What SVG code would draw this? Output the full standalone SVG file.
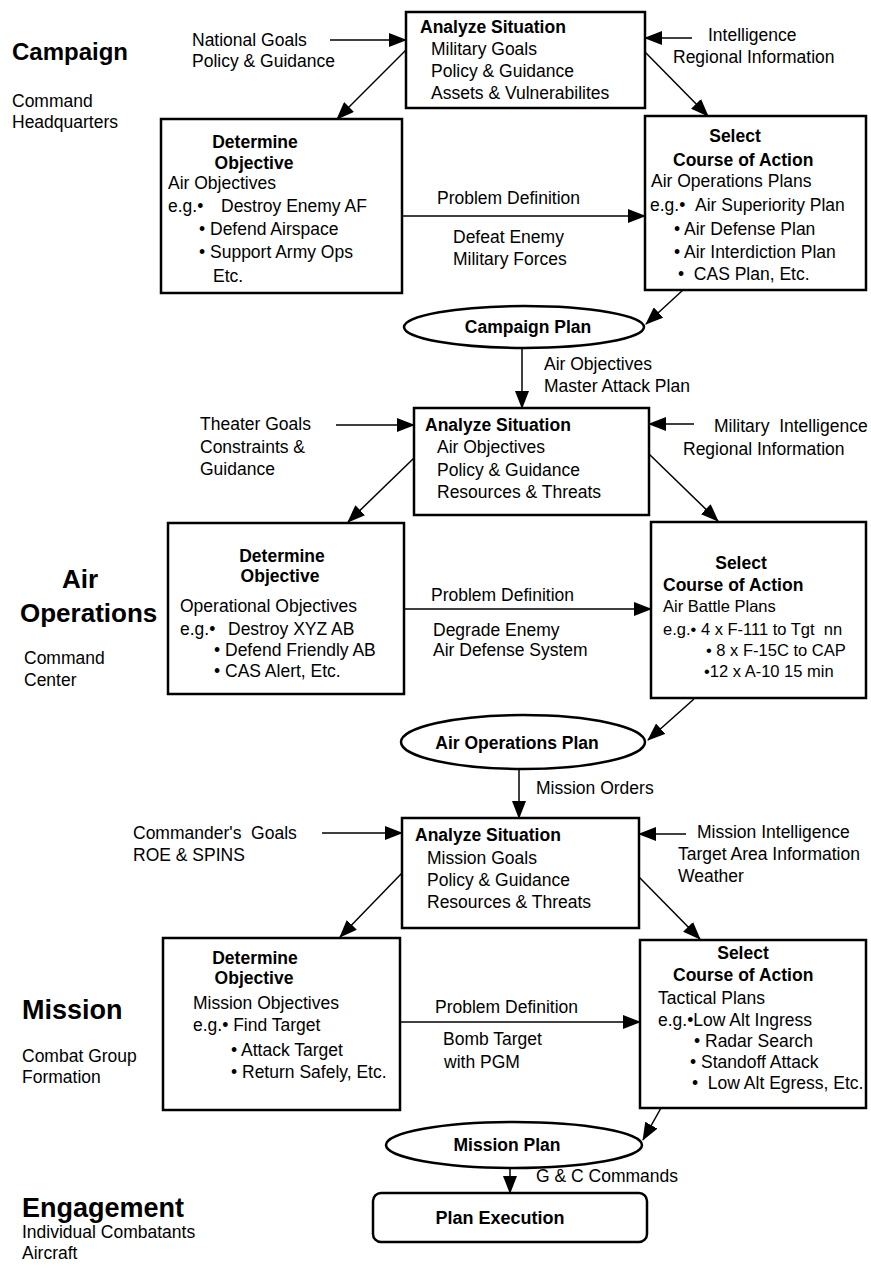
<svg xmlns="http://www.w3.org/2000/svg" width="871" height="1271" viewBox="0 0 871 1271">
<style>
text{font-family:"Liberation Sans",Arial,Helvetica,sans-serif;font-size:17.5px;fill:#000}
.b{font-weight:bold}
.m{text-anchor:middle}
.h{font-size:26px;font-weight:bold}
.s{font-size:16.5px}
.box{fill:#fff;stroke:#000;stroke-width:2.5}
.c{stroke:#000;stroke-width:1.5;fill:none;marker-end:url(#ah)}
</style>
<defs>
<marker id="ah" markerUnits="userSpaceOnUse" markerWidth="18" markerHeight="14" refX="17" refY="7" orient="auto"><path d="M0,0 L18,7 L0,14 z" fill="#000"/></marker>
</defs>
<rect width="871" height="1271" fill="#fff"/>

<g id="levels">
<text x="12" y="60" class="h" style="font-size:24px">Campaign</text>
<text x="12" y="107">Command</text>
<text x="12" y="128">Headquarters</text>
<text x="62" y="588" class="h">Air</text>
<text x="20" y="622" class="h">Operations</text>
<text x="24" y="664">Command</text>
<text x="24" y="686">Center</text>
<text x="22" y="1019" class="h" style="font-size:27px">Mission</text>
<text x="22" y="1062">Combat Group</text>
<text x="22" y="1083">Formation</text>
<text x="22" y="1217" class="h" style="font-size:27px">Engagement</text>
<text x="22" y="1238">Individual Combatants</text>
<text x="22" y="1259">Aircraft</text>
</g>

<g id="connectors">
<line class="c" x1="330" y1="40" x2="406" y2="40"/>
<line class="c" x1="692" y1="38" x2="645" y2="38"/>
<line class="c" x1="406" y1="50" x2="337" y2="119"/>
<line class="c" x1="645" y1="52" x2="708" y2="116"/>
<line class="c" x1="402" y1="216" x2="645" y2="216"/>
<line class="c" x1="683" y1="290" x2="646" y2="324"/>
<line class="c" x1="522" y1="348" x2="522" y2="408"/>

<line class="c" x1="336" y1="425" x2="414" y2="425"/>
<line class="c" x1="694" y1="424" x2="649" y2="424"/>
<line class="c" x1="414" y1="458" x2="348" y2="522"/>
<line class="c" x1="649" y1="454" x2="718" y2="521"/>
<line class="c" x1="404" y1="609" x2="651" y2="609"/>
<line class="c" x1="694" y1="699" x2="648" y2="740"/>
<line class="c" x1="519" y1="769" x2="519" y2="818"/>

<line class="c" x1="322" y1="833" x2="402" y2="833"/>
<line class="c" x1="686" y1="834" x2="639" y2="834"/>
<line class="c" x1="402" y1="873" x2="340" y2="937"/>
<line class="c" x1="639" y1="877" x2="700" y2="939"/>
<line class="c" x1="400" y1="1022" x2="640" y2="1022"/>
<line class="c" x1="661" y1="1108" x2="643" y2="1140"/>
<line class="c" x1="510" y1="1168" x2="510" y2="1193"/>
</g>

<g id="connector-labels">
<text x="192" y="46">National Goals</text>
<text x="192" y="67">Policy &amp; Guidance</text>
<text x="708" y="41">Intelligence</text>
<text x="673" y="63">Regional Information</text>
<text x="437" y="204">Problem Definition</text>
<text x="453" y="243">Defeat Enemy</text>
<text x="453" y="265">Military Forces</text>
<text x="544" y="370">Air Objectives</text>
<text x="544" y="392">Master Attack Plan</text>

<text x="200" y="430">Theater Goals</text>
<text x="200" y="453">Constraints &amp;</text>
<text x="200" y="475">Guidance</text>
<text x="714" y="432" xml:space="preserve">Military  Intelligence</text>
<text x="683" y="455">Regional Information</text>
<text x="431" y="601">Problem Definition</text>
<text x="433" y="636">Degrade Enemy</text>
<text x="433" y="656">Air Defense System</text>
<text x="536" y="794">Mission Orders</text>

<text x="133" y="839" xml:space="preserve">Commander's  Goals</text>
<text x="133" y="861">ROE &amp; SPINS</text>
<text x="697" y="838">Mission Intelligence</text>
<text x="678" y="860">Target Area Information</text>
<text x="678" y="882">Weather</text>
<text x="435" y="1013">Problem Definition</text>
<text x="443" y="1045">Bomb Target</text>
<text x="444" y="1068">with PGM</text>
<text x="536" y="1182">G &amp; C Commands</text>
</g>

<g id="analyze1">
<rect class="box" x="406" y="12" width="239" height="96"/>
<text x="420" y="33" class="b">Analyze Situation</text>
<text x="431" y="55">Military Goals</text>
<text x="431" y="77">Policy &amp; Guidance</text>
<text x="431" y="99">Assets &amp; Vulnerabilites</text>
</g>
<g id="determine1">
<rect class="box" x="161" y="119" width="241" height="174"/>
<text x="255" y="148" class="b m">Determine</text>
<text x="254" y="169" class="b m">Objective</text>
<text x="168" y="189">Air Objectives</text>
<text x="168" y="212">e.g.•</text><text x="221" y="212">Destroy Enemy AF</text>
<text x="199" y="235">• Defend Airspace</text>
<text x="199" y="258">• Support Army Ops</text>
<text x="213" y="282">Etc.</text>
</g>
<g id="select1">
<rect class="box" x="645" y="116" width="221" height="174"/>
<text x="735" y="142" class="b m">Select</text>
<text x="673" y="166" class="b">Course of Action</text>
<text x="651" y="187">Air Operations Plans</text>
<text x="650" y="211">e.g.•</text><text x="695" y="211">Air Superiority Plan</text>
<text x="674" y="235">• Air Defense Plan</text>
<text x="674" y="258">• Air Interdiction Plan</text>
<text x="678" y="280" xml:space="preserve">•  CAS Plan, Etc.</text>
</g>
<g id="campaign-plan">
<ellipse cx="524" cy="327" rx="120" ry="21" fill="#fff" stroke="#000" stroke-width="2.5"/>
<text x="528" y="333" class="b m">Campaign Plan</text>
</g>

<g id="analyze2">
<rect class="box" x="414" y="408" width="235" height="107"/>
<text x="425" y="431" class="b">Analyze Situation</text>
<text x="437" y="453">Air Objectives</text>
<text x="437" y="476">Policy &amp; Guidance</text>
<text x="437" y="498">Resources &amp; Threats</text>
</g>
<g id="determine2">
<rect class="box" x="168" y="523" width="236" height="171"/>
<text x="282" y="562" class="b m">Determine</text>
<text x="280" y="582" class="b m">Objective</text>
<text x="180" y="612">Operational Objectives</text>
<text x="180" y="635">e.g.•</text><text x="228" y="635">Destroy XYZ AB</text>
<text x="214" y="656">• Defend Friendly AB</text>
<text x="214" y="677">• CAS Alert, Etc.</text>
</g>
<g id="select2">
<rect class="box" x="651" y="522" width="215" height="176"/>
<text x="741" y="569" class="b m">Select</text>
<text x="663" y="591" class="b">Course of Action</text>
<text x="663" y="612" class="s">Air Battle Plans</text>
<text x="663" y="635" class="s" xml:space="preserve">e.g.• 4 x F-111 to Tgt  nn</text>
<text x="706" y="656" class="s">• 8 x F-15C to CAP</text>
<text x="704" y="677" class="s">•12 x A-10 15 min</text>
</g>
<g id="air-operations-plan">
<ellipse cx="523" cy="742" rx="122" ry="27" fill="#fff" stroke="#000" stroke-width="2.5"/>
<text x="517" y="749" class="b m">Air Operations Plan</text>
</g>

<g id="analyze3">
<rect class="box" x="402" y="818" width="237" height="110"/>
<text x="415" y="841" class="b">Analyze Situation</text>
<text x="427" y="864">Mission Goals</text>
<text x="427" y="886">Policy &amp; Guidance</text>
<text x="427" y="908">Resources &amp; Threats</text>
</g>
<g id="determine3">
<rect class="box" x="163" y="938" width="237" height="172"/>
<text x="255" y="964" class="b m">Determine</text>
<text x="254" y="984" class="b m">Objective</text>
<text x="193" y="1009">Mission Objectives</text>
<text x="193" y="1031">e.g.• Find Target</text>
<text x="231" y="1056">• Attack Target</text>
<text x="231" y="1078">• Return Safely, Etc.</text>
</g>
<g id="select3">
<rect class="box" x="640" y="940" width="226" height="168"/>
<text x="743" y="959" class="b m">Select</text>
<text x="673" y="981" class="b">Course of Action</text>
<text x="658" y="1004">Tactical Plans</text>
<text x="658" y="1026">e.g.•Low Alt Ingress</text>
<text x="694" y="1047">• Radar Search</text>
<text x="690" y="1068">• Standoff Attack</text>
<text x="692" y="1089" xml:space="preserve">•  Low Alt Egress, Etc.</text>
</g>
<g id="mission-plan">
<ellipse cx="514" cy="1145" rx="128" ry="23" fill="#fff" stroke="#000" stroke-width="2.5"/>
<text x="507" y="1151" class="b m">Mission Plan</text>
</g>
<g id="plan-execution">
<rect class="box" x="373" y="1193" width="274" height="49" rx="8"/>
<text x="500" y="1224" class="b m" style="font-size:18px">Plan Execution</text>
</g>
</svg>
